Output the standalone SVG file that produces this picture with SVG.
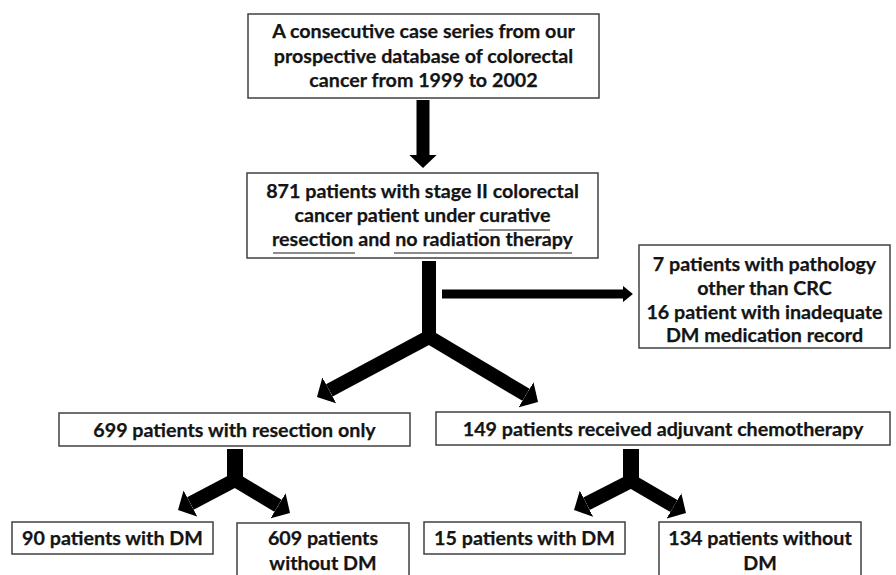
<svg xmlns="http://www.w3.org/2000/svg" width="896" height="575" viewBox="0 0 896 575">
<style>
.box{fill:#fff;stroke:#404040;stroke-width:1.5}
.t{font-family:Lato,"Liberation Sans",sans-serif;font-weight:bold;font-size:19.7px;fill:#141414;stroke:#141414;stroke-width:0.25;text-anchor:middle}
.a{fill:none;stroke:#000;stroke-linecap:butt;stroke-linejoin:miter}
.ul{stroke:#1a1a1a;stroke-width:1.2}
</style>
<defs>
<marker id="head" viewBox="0 0 10 20" refX="0" refY="10" markerWidth="1" markerHeight="2.1" markerUnits="strokeWidth" orient="auto" preserveAspectRatio="none">
<path d="M0,0 L10,10 L0,20 z" fill="#000"/>
</marker>
<marker id="headS" viewBox="0 0 10 20" refX="0" refY="10" markerWidth="1.1" markerHeight="1.8" markerUnits="strokeWidth" orient="auto" preserveAspectRatio="none">
<path d="M0,0 L10,10 L0,20 z" fill="#000"/>
</marker>
</defs>
<rect width="896" height="575" fill="#fff"/>

<g id="connectors">
<line class="a" x1="423" y1="100" x2="423" y2="155" stroke-width="13" marker-end="url(#head)"/>
<line class="a" x1="429" y1="261" x2="429" y2="338" stroke-width="14"/>
<path class="a" d="M429,337 L329.3,390.4" stroke-width="14" marker-end="url(#head)"/>
<path class="a" d="M429,337 L526,394.8" stroke-width="14" marker-end="url(#head)"/>
<polygon points="422,337 436,337 429,333" fill="#000"/>
<line class="a" x1="442" y1="294" x2="623" y2="294" stroke-width="9" marker-end="url(#headS)"/>
<line class="a" x1="235" y1="449" x2="235" y2="481" stroke-width="16"/>
<path class="a" d="M235,480 L190.4,503.5" stroke-width="14" marker-end="url(#head)"/>
<path class="a" d="M235,480 L278,505.8" stroke-width="14" marker-end="url(#head)"/>
<line class="a" x1="631" y1="449" x2="631" y2="482" stroke-width="16"/>
<path class="a" d="M631,481 L586.5,503.7" stroke-width="14" marker-end="url(#head)"/>
<path class="a" d="M631,481 L673.9,506" stroke-width="14" marker-end="url(#head)"/>
</g>

<g id="n1">
<rect class="box" x="248" y="14" width="351" height="84"/>
<text class="t" x="423.5" y="37.5">A consecutive case series from our</text>
<text class="t" x="423.5" y="62.5">prospective database of colorectal</text>
<text class="t" x="423.5" y="87">cancer from 1999 to 2002</text>
</g>

<g id="n2">
<rect class="box" x="247" y="173" width="351" height="85"/>
<text class="t" x="422.5" y="198">871 patients with stage II colorectal</text>
<text class="t" x="422.5" y="222">cancer patient under curative</text>
<text class="t" x="422.5" y="246">resection and no radiation therapy</text>
<line class="ul" x1="479" y1="230" x2="550" y2="230"/>
<line class="ul" x1="273" y1="253" x2="355" y2="253"/>
<line class="ul" x1="394" y1="253" x2="572" y2="253"/>
</g>

<g id="n3">
<rect class="box" x="639" y="245" width="251" height="103"/>
<text class="t" x="764.5" y="271">7 patients with pathology</text>
<text class="t" x="764.5" y="295">other than CRC</text>
<text class="t" x="764.5" y="319">16 patient with inadequate</text>
<text class="t" x="764.5" y="342">DM medication record</text>
</g>

<g id="n4">
<rect class="box" x="59" y="413" width="351" height="33"/>
<text class="t" x="234.5" y="437">699 patients with resection only</text>
</g>

<g id="n5">
<rect class="box" x="436" y="412" width="454" height="33"/>
<text class="t" x="663" y="436">149 patients received adjuvant chemotherapy</text>
</g>

<g id="n6">
<rect class="box" x="12" y="522" width="201" height="32"/>
<text class="t" x="112.5" y="545">90 patients with DM</text>
</g>

<g id="n7">
<rect class="box" x="237" y="523" width="172" height="60"/>
<text class="t" x="323" y="545">609 patients</text>
<text class="t" x="323" y="570">without DM</text>
</g>

<g id="n8">
<rect class="box" x="424" y="522" width="201" height="32"/>
<text class="t" x="524.5" y="545">15 patients with DM</text>
</g>

<g id="n9">
<rect class="box" x="659" y="522" width="202" height="60"/>
<text class="t" x="760" y="545">134 patients without</text>
<text class="t" x="760" y="570">DM</text>
</g>
</svg>
